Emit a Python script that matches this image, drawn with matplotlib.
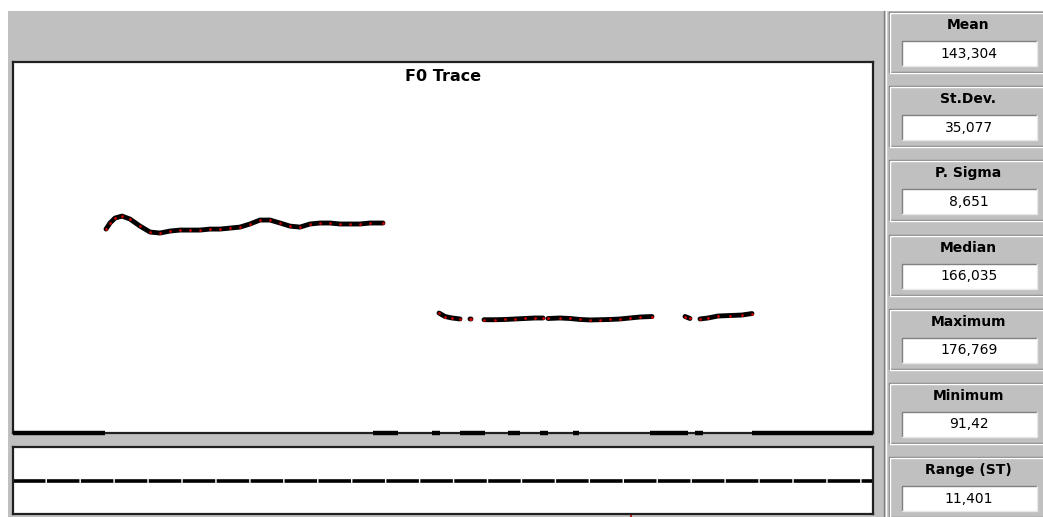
import matplotlib
matplotlib.use("Agg")
import matplotlib.pyplot as plt
import numpy as np
from matplotlib.patches import Rectangle

# F0 contour (Hz) against time (s); NaN marks breaks in the voiced trace
time_s = [0.93, 0.97, 1.02, 1.09, 1.17, 1.27, 1.37, 1.47, 1.57, 1.67, 1.77, 1.87,
          1.97, 2.07, 2.17, 2.27, 2.37, 2.47, 2.57, 2.67, 2.77, 2.87, 2.97, 3.07,
          3.17, 3.27, 3.37, 3.47, 3.57, 3.70, 3.71,
          4.26, 4.32, 4.39, 4.47, 4.52, 4.57, 4.58, 4.64,
          4.71, 4.82, 4.92, 5.02, 5.12, 5.22, 5.30, 5.32,
          5.35, 5.47, 5.57, 5.67, 5.77, 5.87, 5.97, 6.07, 6.17, 6.27, 6.39, 6.50,
          6.72, 6.77, 6.82, 6.87, 6.95, 7.05, 7.17, 7.29, 7.39]
f0_hz = [164.9, 169.8, 173.8, 175.4, 173.0, 167.3, 162.5, 161.7, 163.3, 164.1, 164.1, 164.1,
         164.9, 164.9, 165.7, 166.5, 169.0, 172.2, 172.2, 169.8, 167.3, 166.5, 169.0, 169.8,
         169.8, 169.0, 169.0, 169.0, 169.8, 169.8, np.nan,
         97.0, 94.2, 93.0, 92.2, np.nan, 92.2, 92.2, np.nan,
         91.6, 91.6, 91.8, 92.2, 92.6, 93.0, 93.0, np.nan,
         92.6, 93.0, 92.6, 91.8, 91.42, 91.6, 91.8, 92.2, 93.0, 93.8, 94.2, np.nan,
         94.2, 92.6, np.nan, 92.2, 93.0, 94.6, 95.0, 95.4, 96.6]

# unvoiced stretches drawn on the 0 Hz line (start, end) in seconds
unvoiced_start = [0.00, 3.60, 4.19, 4.47, 4.95, 5.27, 5.60, 6.37, 6.82, 7.39]
unvoiced_end = [0.92, 3.85, 4.27, 4.72, 5.07, 5.35, 5.66, 6.75, 6.90, 8.60]

cursor_s = 6.18

stat_names = ["Mean", "St.Dev.", "P. Sigma", "Median", "Maximum", "Minimum", "Range (ST)"]
stat_values = [143.304, 35.077, 8.651, 166.035, 176.769, 91.42, 11.401]

W, H = 1043, 517
GRAY = "#c0c0c0"
DARK = "#808080"

fig = plt.figure(figsize=(W / 100, H / 100), dpi=100)
fig.patch.set_facecolor("white")

# window background, drawn in pixel units
bg = fig.add_axes([0, 0, 1, 1], zorder=0)
bg.set_xlim(0, W)
bg.set_ylim(H, 0)
bg.axis("off")
bg.add_patch(Rectangle((8, 11), W - 8, H - 11, color=GRAY, lw=0))
bg.plot([884, 884], [11, H], color=DARK, lw=1)
bg.plot([885.5, 885.5], [11, H], color="white", lw=1)

# statistics panels on the right
for i, (name, val) in enumerate(zip(stat_names, stat_values)):
    top = 12 + i * 74.2
    bot = top + 60
    bg.add_patch(Rectangle((889, top), 200, bot - top, fill=False, ec=DARK, lw=1))
    bg.add_patch(Rectangle((890, top + 1), 200, bot - top, fill=False, ec="white", lw=1))
    bg.text(968, top + 13, name, ha="center", va="center",
            fontsize=10, fontweight="bold", family="DejaVu Sans")
    bx0, bx1, by0, by1 = 902, 1037, top + 29, top + 54
    bg.add_patch(Rectangle((bx0, by0), bx1 - bx0, by1 - by0, color="white", lw=0))
    bg.plot([bx0, bx0, bx1], [by1, by0, by0], color=DARK, lw=1)
    bg.plot([bx0, bx1, bx1], [by1, by1, by0], color="#e8e8e8", lw=1)
    bg.text(969, (by0 + by1) / 2, str(val).replace(".", ","), ha="center", va="center",
            fontsize=10, family="DejaVu Sans")

# F0 trace window
ax = fig.add_axes([13 / W, 1 - 433 / H, 860 / W, (433 - 62) / H], zorder=2)
ax.set_xlim(0, 8.6)
ax.set_ylim(0, 300)
ax.set_xticks([])
ax.set_yticks([])
for s in ax.spines.values():
    s.set_color("#202020")
    s.set_linewidth(1.6)
ax.text(0.5, 0.962, "F0 Trace", transform=ax.transAxes, ha="center", va="center",
        fontsize=11.5, fontweight="bold")

ax.plot(time_s, f0_hz, color="black", lw=3.5, solid_capstyle="round")
ax.plot(time_s, f0_hz, ls="none", marker="o", ms=2.0, mfc="#d00000", mec="none")
ax.hlines([0] * len(unvoiced_start), unvoiced_start, unvoiced_end, color="black",
          lw=3.2, clip_on=False, zorder=3)

# lower (amplitude) window
ax2 = fig.add_axes([13 / W, 1 - 514 / H, 860 / W, (514 - 447) / H], zorder=2)
ax2.set_xlim(0, 8.6)
ax2.set_ylim(-1, 1)
ax2.set_xticks([])
ax2.set_yticks([])
for s in ax2.spines.values():
    s.set_color("#202020")
    s.set_linewidth(1.6)
ax2.axhline(0, color="black", lw=2.6, dashes=(9, 0.4))
ax2.plot([cursor_s, cursor_s], [-1.0, -1.12], color="#c00000", lw=1.2, clip_on=False)

fig.savefig("out.png", dpi=100)
